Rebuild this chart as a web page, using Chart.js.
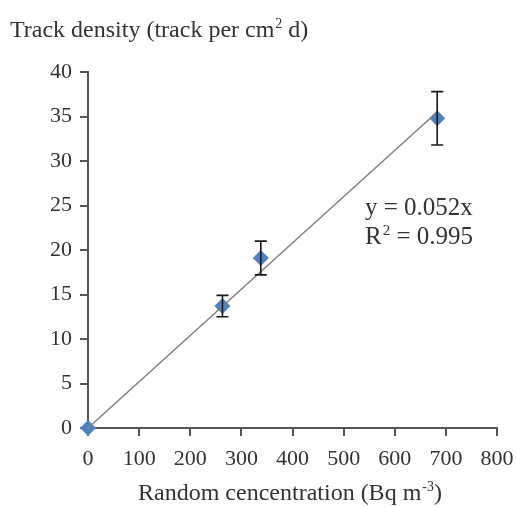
<!DOCTYPE html>
<html>
<head>
<meta charset="utf-8">
<script src="https://cdn.jsdelivr.net/npm/chart.js@4"></script>
<style>
  html, body { margin: 0; padding: 0; background: #fff; }
  #wrap { width: 516px; height: 507px; }
</style>
</head>
<body>
<div id="wrap"><canvas id="myChart" width="516" height="507"></canvas></div>
<script>
// data
var concentration = [0, 263, 338, 683];
var density = [0, 13.7, 19.1, 34.8];
var densityErr = [0, 1.2, 1.9, 3.0];
var trendX = [0, 683];
var trendY = [0, 35.5];
var xTicks = [0, 100, 200, 300, 400, 500, 600, 700, 800];
var yTicks = [0, 5, 10, 15, 20, 25, 30, 35, 40];

var serif = '"Liberation Serif", "DejaVu Serif", serif';

var points = concentration.map(function (x, i) { return { x: x, y: density[i] }; });
var trend = trendX.map(function (x, i) { return { x: x, y: trendY[i] }; });

var errorBars = {
  id: 'errorBars',
  afterDatasetsDraw: function (chart) {
    var ctx = chart.ctx;
    var xs = chart.scales.x, ys = chart.scales.y;
    ctx.save();
    ctx.strokeStyle = '#1a1a1a';
    ctx.lineWidth = 1.6;
    for (var i = 0; i < points.length; i++) {
      if (!densityErr[i]) continue;
      var px = xs.getPixelForValue(points[i].x);
      var top = ys.getPixelForValue(points[i].y + densityErr[i]);
      var bot = ys.getPixelForValue(points[i].y - densityErr[i]);
      ctx.beginPath();
      ctx.moveTo(px, top); ctx.lineTo(px, bot);
      ctx.moveTo(px - 6, top); ctx.lineTo(px + 6, top);
      ctx.moveTo(px - 6, bot); ctx.lineTo(px + 6, bot);
      ctx.stroke();
    }
    ctx.restore();
  }
};

// draws text with one raised part: [normal, sup, normal]
function supText(ctx, x, y, parts, size, supSize, rise) {
  ctx.font = size + 'px ' + serif;
  ctx.fillText(parts[0], x, y);
  x += ctx.measureText(parts[0]).width + 1;
  ctx.font = supSize + 'px ' + serif;
  ctx.fillText(parts[1], x, y - rise);
  x += ctx.measureText(parts[1]).width;
  ctx.font = size + 'px ' + serif;
  ctx.fillText(parts[2], x, y);
}
function supWidth(ctx, parts, size, supSize) {
  ctx.font = size + 'px ' + serif;
  var w = ctx.measureText(parts[0]).width + ctx.measureText(parts[2]).width + 1;
  ctx.font = supSize + 'px ' + serif;
  return w + ctx.measureText(parts[1]).width;
}

var texts = {
  id: 'texts',
  afterDraw: function (chart) {
    var ctx = chart.ctx;
    ctx.save();
    ctx.fillStyle = '#333';
    ctx.textBaseline = 'alphabetic';
    ctx.textAlign = 'left';
    // y title
    supText(ctx, 10, 37, ['Track density (track per cm', '2', ' d)'], 24, 14, 9);
    // x title
    var xt = ['Random cencentration (Bq m', '-3', ')'];
    var w = supWidth(ctx, xt, 24, 14);
    supText(ctx, 290 - w / 2, 500, xt, 24, 14, 9);
    // equation
    ctx.font = '25px ' + serif;
    ctx.fillText('y = 0.052x', 365, 215);
    supText(ctx, 365, 244, ['R', '2', ' = 0.995'], 25, 15, 9);
    ctx.restore();
  }
};

var ctx = document.getElementById('myChart').getContext('2d');
new Chart(ctx, {
  type: 'scatter',
  data: {
    datasets: [{
      label: 'Track density',
      data: points,
      pointStyle: 'rectRot',
      pointRadius: 8,
      pointHoverRadius: 8,
      backgroundColor: '#4f81bd',
      borderColor: '#4f81bd',
      borderWidth: 0,
      clip: false,
      order: 1
    }, {
      label: 'Trend',
      type: 'line',
      data: trend,
      borderColor: '#808080',
      borderWidth: 1.5,
      pointRadius: 0,
      fill: false,
      clip: false,
      order: 0
    }]
  },
  options: {
    responsive: false,
    animation: false,
    layout: { padding: { top: 72, right: 19, left: 0, bottom: 0 } },
    plugins: { legend: { display: false }, tooltip: { enabled: false } },
    scales: {
      x: {
        type: 'linear',
        min: 0, max: 800,
        afterBuildTicks: function (s) { s.ticks = xTicks.map(function (v) { return { value: v }; }); },
        afterFit: function (s) { s.height = 79; s.paddingLeft = 0; s.paddingRight = 0; },
        border: { color: '#555', width: 2 },
        grid: { drawOnChartArea: false, drawTicks: true, tickLength: 8, color: '#555', lineWidth: 2 },
        ticks: { color: '#333', font: { family: serif, size: 22 }, padding: 10, maxRotation: 0 }
      },
      y: {
        type: 'linear',
        min: 0, max: 40,
        afterBuildTicks: function (s) { s.ticks = yTicks.map(function (v) { return { value: v }; }); },
        afterFit: function (s) { s.width = 88; s.paddingTop = 0; s.paddingBottom = 0; },
        border: { color: '#555', width: 2 },
        grid: { drawOnChartArea: false, drawTicks: true, tickLength: 8, color: '#555', lineWidth: 2 },
        ticks: { color: '#333', font: { family: serif, size: 22 }, padding: 8 }
      }
    }
  },
  plugins: [errorBars, texts]
});
</script>
</body>
</html>
